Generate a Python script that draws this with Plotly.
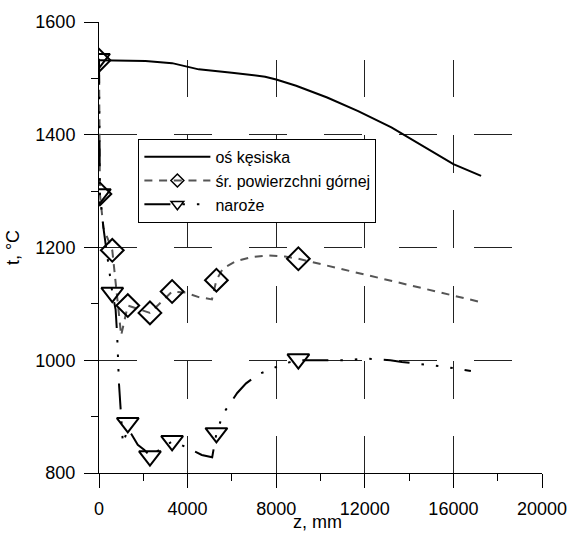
import plotly.graph_objects as go

# ---- data ----
z_os = [0, 200, 2100, 3300, 4500, 6000, 7500, 8000, 8900, 10300, 11700, 13200, 14700, 16000, 17250]
t_os = [1532, 1532, 1531, 1527, 1516, 1510, 1503, 1498, 1487, 1466, 1442, 1413, 1378, 1348, 1327]

z_sr = [0, 40, 200, 600, 1000, 1300, 2300, 3300, 3900, 4500, 5100, 5300, 5600, 6200, 6900, 7600, 8400, 9000, 17250]
t_sr = [1532, 1295, 1235, 1195, 1044, 1097, 1084, 1122, 1120, 1112, 1108, 1142, 1163, 1176, 1183, 1186, 1184, 1180, 1103]
z_sr_m = [0, 40, 600, 1300, 2300, 3300, 5300, 9000]
t_sr_m = [1532, 1295, 1195, 1097, 1084, 1122, 1142, 1180]

z_nar = [0, 40, 200, 350, 600, 750, 820, 900, 1007, 1080, 1300, 1480, 1750, 2050, 2300, 3300, 3600,
         4640, 5110, 5300, 5600, 6240, 6640, 7190, 7820, 8340, 9000, 10000, 11200, 12000, 13150,
         13670, 14410, 15080, 15680, 16790]
t_nar = [1535, 1295, 1235, 1195, 1120, 1090, 1045, 960, 900, 852, 878, 868, 850, 841, 830, 856, 852,
         832, 828, 870, 905, 942, 959, 975, 985, 994, 1000, 1000, 1000, 1003, 1000,
         997, 994, 990, 988, 981]
z_nar_m = [0, 40, 600, 1300, 2300, 3300, 5300, 9000]
t_nar_m = [1535, 1295, 1120, 889, 830, 857, 871, 1002]

names = ["oś kęsiska", "śr. powierzchni górnej", "naroże"]
x_ticks = [0, 4000, 8000, 12000, 16000, 20000]
y_ticks = [800, 1000, 1200, 1400, 1600]
x_title = "z, mm"
y_title = "t, °C"

FONT = "Liberation Sans, Arial, sans-serif"
dash_sr = "8px,6.7px"
dash_nar = "26px,12px,2.5px,12px,2.5px,12px,2.5px,12px"

fig = go.Figure()

# lines
fig.add_trace(go.Scatter(x=z_os, y=t_os, mode="lines", showlegend=False,
                         line=dict(color="black", width=2)))
fig.add_trace(go.Scatter(x=z_sr, y=t_sr, mode="lines", showlegend=False,
                         line=dict(color="#555555", width=2, dash=dash_sr)))
fig.add_trace(go.Scatter(x=z_nar, y=t_nar, mode="lines", showlegend=False,
                         line=dict(color="black", width=2, dash=dash_nar)))
# markers
fig.add_trace(go.Scatter(x=z_sr_m, y=t_sr_m, mode="markers", showlegend=False,
                         marker=dict(symbol="diamond-open", size=17.5, color="black",
                                     line=dict(width=2, color="black"))))
fig.add_trace(go.Scatter(x=z_nar_m, y=t_nar_m, mode="markers", showlegend=False,
                         marker=dict(symbol="triangle-down-open", size=19, color="black",
                                     line=dict(width=2, color="black"))))

# legend entries
fig.add_trace(go.Scatter(x=[None], y=[None], mode="lines", name=names[0],
                         line=dict(color="black", width=2)))
fig.add_trace(go.Scatter(x=[None], y=[None], mode="lines+markers", name=names[1],
                         line=dict(color="#555555", width=2, dash=dash_sr),
                         marker=dict(symbol="diamond-open", size=10, color="black",
                                     line=dict(width=1.5, color="black"))))
fig.add_trace(go.Scatter(x=[None], y=[None], mode="lines+markers", name=names[2],
                         line=dict(color="black", width=2, dash=dash_nar),
                         marker=dict(symbol="triangle-down-open", size=11, color="black",
                                     line=dict(width=1.5, color="black"))))

axis_common = dict(
    showline=True, linecolor="black", linewidth=1,
    ticks="outside", ticklen=14, tickcolor="black", tickwidth=1,
    showgrid=True, gridcolor="#222222", gridwidth=1,
    zeroline=False, ticklabelstandoff=5,
    tickfont=dict(family=FONT, size=18, color="black"),
)

fig.update_xaxes(**axis_common, range=[0, 20000], tickvals=x_ticks,
                 ticktext=[str(v) for v in x_ticks],
                 griddash="0px,37.67px,37.67px,0px",
                 minor=dict(ticks="outside", ticklen=7, dtick=2000, tick0=0,
                            tickcolor="black", showgrid=False))
fig.update_yaxes(**axis_common, range=[800, 1600], tickvals=y_ticks,
                 ticktext=[str(v) for v in y_ticks],
                 griddash="37.5px,37.5px",
                 minor=dict(ticks="outside", ticklen=7, dtick=100, tick0=800,
                            tickcolor="black", showgrid=False),
                 title=dict(text=y_title, font=dict(family=FONT, size=18, color="black"),
                            standoff=11))

fig.add_annotation(text=x_title, xref="paper", yref="paper", x=0.493, y=-0.1084,
                   xanchor="center", yanchor="middle", showarrow=False,
                   font=dict(family=FONT, size=18, color="black"))

fig.update_layout(
    width=579, height=539,
    margin=dict(l=99, r=30, t=21, b=66),
    paper_bgcolor="white", plot_bgcolor="white",
    font=dict(family=FONT, color="black"),
    legend=dict(x=0.0889, y=0.648, xanchor="left", yanchor="middle",
                bordercolor="black", borderwidth=1, bgcolor="white",
                font=dict(family=FONT, size=16, color="black"),
                itemwidth=66, tracegroupgap=0),
)

fig.write_html("out.html")
